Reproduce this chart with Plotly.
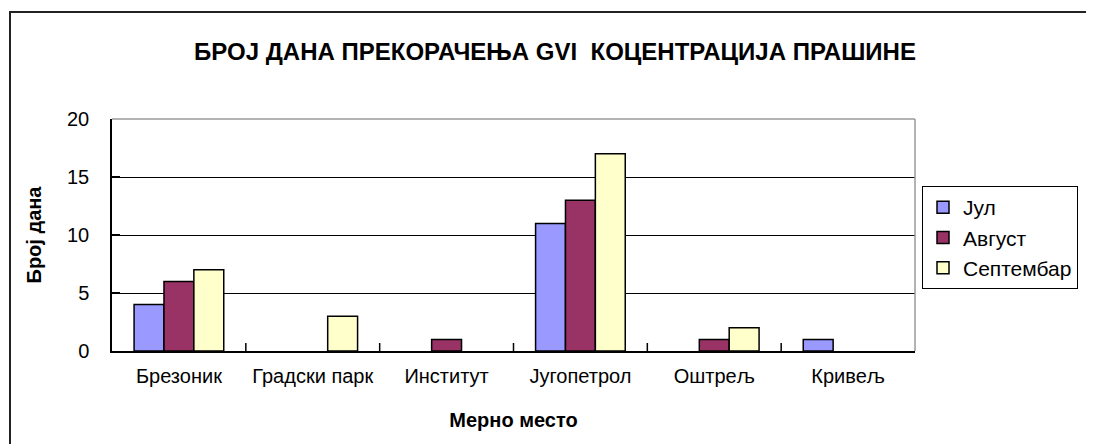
import plotly.graph_objects as go

categories = ["Брезоник", "Градски парк", "Институт", "Југопетрол", "Оштрељ", "Кривељ"]
series_names = ["Јул", "Август", "Септембар"]
jul = [4, 0, 0, 11, 0, 1]
avgust = [6, 0, 1, 13, 1, 0]
septembar = [7, 3, 0, 17, 2, 0]
colors = ["#9999FF", "#993366", "#FFFFCC"]
y_ticks = [0, 5, 10, 15, 20]

FONT = "Liberation Sans, Arial, sans-serif"

# page body has an 8px margin; figure is laid out accordingly
W, H = 1086, 436
L, R, T, B = 104, 907, 111, 343  # plot area in figure pixels
PW, PH = R - L, B - T

fig = go.Figure()
for name, vals, col in zip(series_names, [jul, avgust, septembar], colors):
    fig.add_trace(go.Bar(
        x=categories, y=[v if v else None for v in vals], name=name,
        marker=dict(color=col, line=dict(color="#000000", width=1.5)),
    ))

fig.update_layout(
    width=W, height=H,
    margin=dict(l=L, r=W - R, t=T, b=H - B),
    paper_bgcolor="white", plot_bgcolor="white",
    barmode="group", bargap=0.33, bargroupgap=0,
    font=dict(family=FONT, size=20, color="#000000"),
    title=dict(
        text="<b>БРОЈ ДАНА ПРЕКОРАЧЕЊА GVI\u00a0\u00a0КОЦЕНТРАЦИЈА ПРАШИНЕ</b>",
        x=547 / W, xref="container", xanchor="center",
        y=1 - 44 / H, yref="container", yanchor="middle",
        font=dict(family=FONT, size=24, color="#000000"),
    ),
    showlegend=True,
    legend=dict(
        x=(914 - L) / PW, xanchor="left",
        y=(B - 178) / PH, yanchor="top",
        bordercolor="#000000", borderwidth=1,
        bgcolor="white",
        font=dict(family=FONT, size=21, color="#000000"),
        itemwidth=30,
    ),
    xaxis=dict(
        showline=True, linecolor="#000000", linewidth=1.5,
        ticks="", showgrid=False,
        ticklabelstandoff=6,
        title=dict(text="<b>Мерно место</b>", font=dict(family=FONT, size=20), standoff=27),
        tickfont=dict(family=FONT, size=20),
    ),
    yaxis=dict(
        range=[0, 20], tickvals=y_ticks,
        showline=True, linecolor="#000000", linewidth=1.5,
        ticks="inside", ticklen=8, tickcolor="#000000", tickwidth=1.5,
        showgrid=True, gridcolor="#000000", gridwidth=1,
        zeroline=False,
        ticklabelstandoff=17,
        title=dict(text="<b>Број дана</b>", font=dict(family=FONT, size=20), standoff=20),
        tickfont=dict(family=FONT, size=20),
    ),
)

# category boundary ticks on the x axis (pointing up, inside)
for i in range(1, len(categories)):
    fig.add_shape(type="line", xref="x", yref="paper",
                  x0=i - 0.5, x1=i - 0.5, y0=0, y1=8 / PH,
                  line=dict(color="#000000", width=1.5))

# grey plot-area border on top and right
fig.add_shape(type="line", xref="paper", yref="paper", x0=0, x1=1, y0=1, y1=1,
              line=dict(color="#9a9a9a", width=1.5))
fig.add_shape(type="line", xref="paper", yref="paper", x0=1, x1=1, y0=0, y1=1,
              line=dict(color="#9a9a9a", width=1.5))

# outer chart frame (clipped at right/bottom as in the reference)
fig.add_shape(type="rect", xref="paper", yref="paper",
              x0=(2 - L) / PW, x1=1.4, y0=-0.6, y1=(B - 4) / PH,
              line=dict(color="#222222", width=2), layer="below")

fig.write_html("out.html")
